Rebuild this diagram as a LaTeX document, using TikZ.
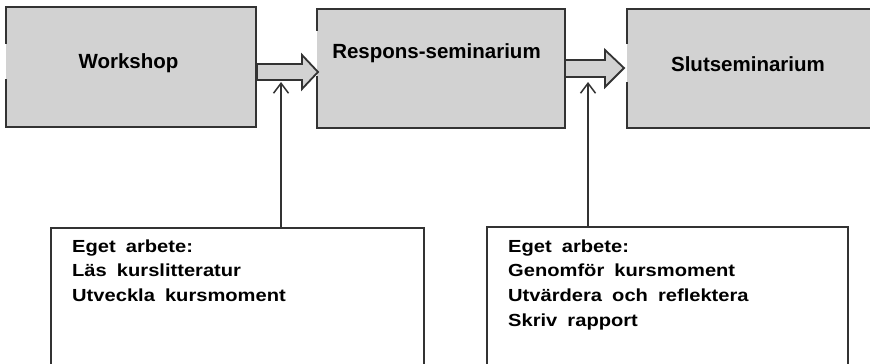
\documentclass[tikz,border=0pt]{standalone}
\usepackage{fontspec}
\setmainfont{Liberation Sans}
\newfontfamily\lowfont[FakeStretch=1.15,WordSpace=1.8]{Liberation Sans}
\usetikzlibrary{arrows.meta}
\definecolor{boxgray}{HTML}{D2D2D2}
\definecolor{edge}{HTML}{333333}
\tikzset{
  upbox/.style={fill=boxgray, draw=none, anchor=north west, inner sep=0pt},
  border/.style={draw=edge, line width=2pt, line cap=rect},
  lowbox/.style={fill=white, draw=edge, line width=1.9pt, anchor=north west, inner sep=0pt},
  uplabel/.style={font=\bfseries\fontsize{20.5}{24}\selectfont, anchor=base, inner sep=0pt, text=black},
  lowlabel/.style={font=\lowfont\bfseries\fontsize{17.5}{24.6}\selectfont, align=left, anchor=north west, inner sep=0pt, text=black},
  blockarrow/.style={fill=boxgray, draw=edge, line width=1.8pt, line join=miter},
  thinarrow/.style={draw=edge, line width=1.5pt, -{Straight Barb[length=10pt,width=15pt,line width=1.5pt]}}
}
\begin{document}
\begin{tikzpicture}[x=1pt,y=-1pt]
\useasboundingbox (0,0) rectangle (870,364);
\clip (0,0) rectangle (870,364);
% upper boxes
\node[upbox, minimum width=250pt, minimum height=120pt] (b1) at (6,7) {};
\node[upbox, minimum width=248pt, minimum height=119pt] (b2) at (317,9) {};
\node[upbox, minimum width=260pt, minimum height=119pt] (b3) at (627,9) {};
% borders with gaps on left edges
\draw[border] (6,43) -- (6,7) -- (256,7) -- (256,127) -- (6,127) -- (6,80);
\draw[border] (317,30) -- (317,9) -- (565,9) -- (565,128) -- (317,128) -- (317,77);
\draw[border] (627,43) -- (627,9) -- (880,9);
\draw[border] (880,128) -- (627,128) -- (627,83);
% labels
\node[uplabel] (t1) at (128.5,68) {Workshop};
\node[uplabel] (t2) at (436.5,58) {Respons-seminarium};
\node[uplabel] (t3) at (748,71) {Slutseminarium};
% block arrows
\draw[blockarrow] (257,64) -- (302,64) -- (302,55) -- (318,72) -- (302,89) -- (302,80) -- (257,80) -- cycle;
\draw[blockarrow] (565,60) -- (605,60) -- (605,50) -- (624,68) -- (605,87) -- (605,77) -- (565,77) -- cycle;
% lower boxes
\node[lowbox, minimum width=373pt, minimum height=160pt] (l1) at (50,227) {};
\node[lowbox, minimum width=361pt, minimum height=160pt] (l2) at (486,226) {};
\node[lowlabel] (lt1) at (72,239.5) {Eget arbete:\\Läs kurslitteratur\\Utveckla kursmoment};
\node[lowlabel] (lt2) at (508,239.5) {Eget arbete:\\Genomför kursmoment\\Utvärdera och reflektera\\Skriv rapport};
% thin arrows
\coordinate (p1) at (281,82);
\coordinate (p2) at (588,82);
\draw[thinarrow] (l1.north -| p1) -- (p1);
\draw[thinarrow] (l2.north -| p2) -- (p2);
\end{tikzpicture}
\end{document}
